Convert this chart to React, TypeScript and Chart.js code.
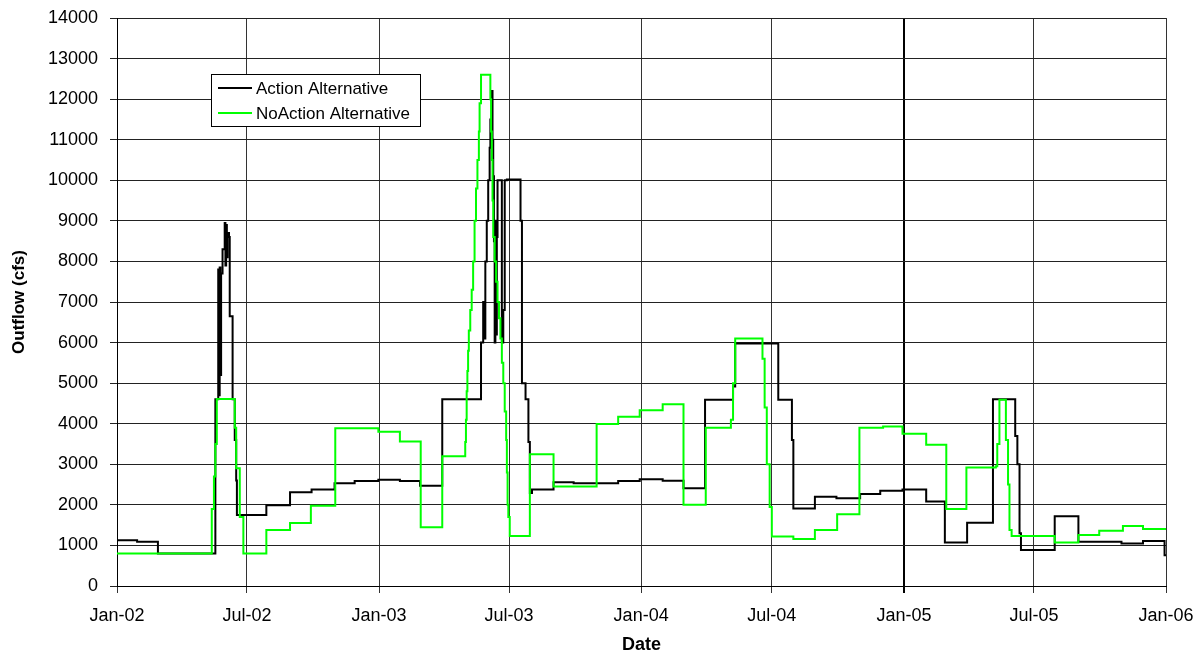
import React, { useEffect, useRef } from "react";
import { Chart, registerables } from "chart.js";

Chart.register(...registerables);

// Days counted from 1 Jan 2002
const tickDays = [0, 181, 365, 546, 730, 912, 1096, 1277, 1461];
const tickLabels = ["Jan-02", "Jul-02", "Jan-03", "Jul-03", "Jan-04", "Jul-04", "Jan-05", "Jul-05", "Jan-06"];

// Action Alternative outflow (cfs): day at which each level begins
const actionDays = [
  0, 28, 57, 137, 141, 142, 143, 144, 145, 147, 150, 151, 152, 153, 154, 156, 157, 161, 164, 166, 167,
  208, 241, 271, 303, 331, 364, 394, 422, 453,
  507, 510, 511, 513, 515, 517, 519, 520, 522, 523, 524, 525, 526, 527, 528, 529, 530, 536, 538, 540, 543,
  562, 564, 569, 573, 575, 578, 608, 636, 698, 728, 760, 789, 819, 858, 861, 921, 940, 942, 972, 1002,
  1035, 1063, 1094, 1127, 1153, 1184, 1220, 1251, 1254, 1257, 1259, 1306, 1339, 1399, 1429, 1459, 1461,
];
const actionFlow = [
  1130, 1090, 800, 4600, 7800, 4700, 7850, 5200, 7700, 8300, 8950, 7900, 8900, 8100, 8700, 8600, 6650, 4600, 3600, 2600, 1750,
  1990, 2310, 2380, 2530, 2590, 2620, 2590, 2470, 4600,
  6000, 7000, 6100, 8000, 9000, 10000, 10800, 11500, 12200, 11000, 10100, 8500, 6000, 9000, 6200, 8600, 10000, 6000, 6800, 10000, 10020,
  9000, 5000, 4600, 3550, 2290, 2380, 2560, 2530, 2590, 2630, 2595, 2410, 4590, 4920, 5980, 4590, 3600, 1910, 2200, 2160,
  2270, 2350, 2380, 2080, 1070, 1560, 4600, 3700, 3000, 1300, 890, 1720, 1090, 1050, 1110, 760, 760,
];

// NoAction Alternative outflow (cfs)
const noActionDays = [
  0, 132, 135, 137, 139, 164, 166, 171, 176, 208, 241, 270, 304, 364, 394, 423, 453,
  485, 486, 487, 488, 489, 490, 492, 494, 496, 498, 500, 502, 504, 505, 507,
  520, 521, 522, 523, 524, 526, 528, 530, 532, 534, 536, 538, 540, 542, 543, 544, 545, 547,
  575, 608, 668, 698, 728, 760, 789, 820, 855, 858, 861, 899, 902, 905, 909, 912, 942, 972, 1003,
  1034, 1067, 1094, 1127, 1155, 1183, 1224, 1226, 1229, 1238, 1241, 1243, 1246, 1306, 1339, 1368, 1401, 1429, 1461,
];
const noActionFlow = [
  800, 1900, 2700, 3500, 4610, 3900, 2900, 1700, 800, 1380, 1550, 1980, 3890, 3800, 3560, 1450, 3200,
  3550, 4100, 4800, 5300, 5800, 6300, 6800, 7300, 8000, 9000, 9800, 10500, 11200, 11900, 12600,
  12000, 11200, 10500, 9500, 8600, 8000, 7500, 7000, 6600, 6100, 5500, 5000, 4300, 3600, 2800, 2000, 1700, 1230,
  3250, 2450, 3990, 4170, 4330, 4480, 2000, 3900, 4100, 5000, 6100, 5600, 4400, 3000, 1950, 1220, 1160, 1380, 1770,
  3900, 3930, 3750, 3480, 1900, 2920, 2950, 3500, 4590, 3600, 2500, 1380, 1230, 1070, 1260, 1360, 1480, 1405, 1405,
];

const seriesNames = ["Action Alternative", "NoAction Alternative"];
const seriesColors = ["#000000", "#00ff00"];

const FONT = '"Liberation Sans", Arial, sans-serif';

const toPoints = (days: number[], vals: number[]) => days.map((d, i) => ({ x: d, y: vals[i] }));

// Keep the plot box fixed by the layout padding alone
const clearScalePadding = (s: any) => {
  s.paddingTop = 0;
  s.paddingBottom = 0;
  s.paddingLeft = 0;
  s.paddingRight = 0;
};

// Boxed legend inside the plot area, top-left
const boxLegend = {
  id: "boxLegend",
  afterDraw(chart: any) {
    const { ctx } = chart;
    ctx.save();
    const x = 211.5, y = 74.5, w = 209, h = 52;
    ctx.fillStyle = "#ffffff";
    ctx.fillRect(x, y, w, h);
    ctx.strokeStyle = "#000000";
    ctx.lineWidth = 1;
    ctx.strokeRect(x, y, w, h);
    ctx.font = `17px ${FONT}`;
    ctx.textBaseline = "middle";
    ctx.textAlign = "left";
    seriesNames.forEach((name, i) => {
      const ly = 88 + i * 25;
      ctx.strokeStyle = seriesColors[i];
      ctx.lineWidth = 2;
      ctx.beginPath();
      ctx.moveTo(218, ly);
      ctx.lineTo(252, ly);
      ctx.stroke();
      ctx.fillStyle = "#000000";
      ctx.fillText(name, 256, ly + 1);
    });
    ctx.restore();
  },
};

export default function App() {
  const canvasRef = useRef<HTMLCanvasElement | null>(null);

  useEffect(() => {
    if (!canvasRef.current) return;
    Chart.defaults.font.family = FONT;
    Chart.defaults.color = "#000000";
    const chart = new Chart(canvasRef.current, {
      type: "line",
      data: {
        datasets: [
          {
            label: seriesNames[0],
            data: toPoints(actionDays, actionFlow),
            borderColor: seriesColors[0],
            borderWidth: 2,
            pointRadius: 0,
            stepped: true,
            order: 2,
          },
          {
            label: seriesNames[1],
            data: toPoints(noActionDays, noActionFlow),
            borderColor: seriesColors[1],
            borderWidth: 2,
            pointRadius: 0,
            stepped: true,
            order: 1,
          },
        ],
      },
      options: {
        animation: false,
        responsive: false,
        events: [],
        layout: { padding: { top: 18, right: 32, left: 0, bottom: 0 } },
        plugins: { legend: { display: false }, tooltip: { enabled: false } },
        scales: {
          x: {
            type: "linear",
            min: 0,
            max: 1461,
            afterBuildTicks: (s: any) => {
              s.ticks = tickDays.map((v) => ({ value: v }));
            },
            afterFit: (s: any) => {
              s.height = 68;
              clearScalePadding(s);
            },
            ticks: {
              autoSkip: false,
              maxRotation: 0,
              padding: 12,
              font: { size: 18 },
              color: "#000000",
              callback: (_v: any, i: number) => tickLabels[i],
            },
            grid: {
              color: (c: any) => (c.tick && c.tick.value === 1096 ? "#000000" : "#333333"),
              lineWidth: (c: any) => (c.tick && c.tick.value === 1096 ? 2 : 1),
              tickLength: 7,
            },
            border: { color: "#000000", width: 1 },
            title: {
              display: true,
              text: "Date",
              font: { size: 18, weight: "bold" },
              color: "#000000",
              padding: { top: 0, bottom: -2 },
            },
          },
          y: {
            min: 0,
            max: 14000,
            afterFit: (s: any) => {
              s.width = 117;
              clearScalePadding(s);
            },
            ticks: {
              stepSize: 1000,
              padding: 12,
              font: { size: 18 },
              color: "#000000",
              callback: (v: any) => String(v),
            },
            grid: { color: "#222222", lineWidth: 1, tickLength: 7 },
            border: { color: "#000000", width: 1 },
            title: {
              display: true,
              text: "Outflow (cfs)",
              font: { size: 17, weight: "bold" },
              color: "#000000",
              padding: { top: 9, bottom: 0 },
            },
          },
        },
      },
      plugins: [boxLegend],
    });
    return () => chart.destroy();
  }, []);

  return (
    <div style={{ position: "fixed", left: 0, top: 0, width: 1198, height: 654, background: "#ffffff" }}>
      <canvas ref={canvasRef} width={1198} height={654} style={{ display: "block" }} />
    </div>
  );
}
